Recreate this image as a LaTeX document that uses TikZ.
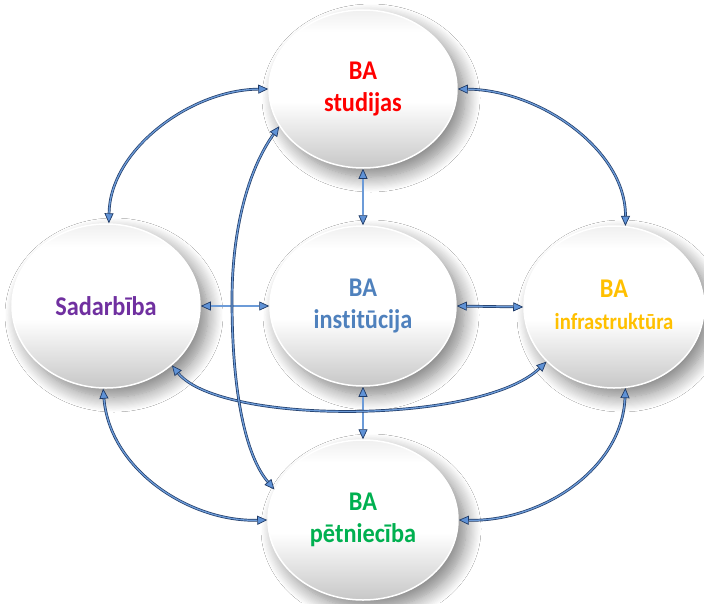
\documentclass[tikz,border=0pt]{standalone}
\usepackage{fontspec}
\setmainfont{Carlito}[Ligatures=NoCommon]
\usetikzlibrary{shapes.geometric,arrows.meta,shadows.blur}
\definecolor{cred}{HTML}{FF0000}
\definecolor{cblue}{HTML}{4F81BD}
\definecolor{cpurple}{HTML}{7030A0}
\definecolor{cgold}{HTML}{FFC000}
\definecolor{cgreen}{HTML}{00B050}
\definecolor{lnout}{HTML}{1F3A66}
\definecolor{lnin}{HTML}{6C9BD8}
\definecolor{tipfill}{HTML}{5F92D6}
\pgfdeclareverticalshading{bubshade}{100bp}{color(0bp)=(black!22); color(25bp)=(black!22); color(46bp)=(white); color(68bp)=(white); color(75bp)=(black!6); color(100bp)=(black!6)}
\tikzset{
  bubble/.style={ellipse, inner sep=0pt, draw=white, line width=1.5pt,
    shading=bubshade,
    blur shadow={shadow xshift=8pt, shadow yshift=-9pt,
      shadow opacity=50, shadow blur radius=15pt, shadow blur steps=14},
    font=\bfseries\fontsize{27}{32}\selectfont, align=center},
  conn/.style={draw=lnout, line width=0.7pt, double=lnin, double distance=1.3pt,
    {Triangle[length=10pt,width=9pt,fill=tipfill,line width=0.7pt]}-{Triangle[length=10pt,width=9pt,fill=tipfill,line width=0.7pt]}},
}
\newcommand{\sq}[1]{\scalebox{0.9}[1]{#1}}
\begin{document}
\begin{tikzpicture}[x=1pt,y=-1pt]
\useasboundingbox[fill=white] (0,0) rectangle (704,603);
\node[bubble, minimum width=188pt, minimum height=158pt, text=cred] (top) at (363,89)
  {\sq{\begin{tabular}{@{}c@{}}BA\\studijas\end{tabular}}};
\node[bubble, minimum width=188pt, minimum height=164pt, text=cpurple] (left) at (106,306)
  {\sq{Sadarbība}};
\node[bubble, minimum width=186pt, minimum height=160pt, text=cblue] (center) at (363,306)
  {\sq{\begin{tabular}{@{}c@{}}BA\\institūcija\end{tabular}}};
\node[bubble, minimum width=180pt, minimum height=162pt, text=cgold] (right) at (614,307)
  {\sq{\begin{tabular}{@{}c@{}}BA\\{\fontsize{23}{32}\selectfont infrastruktūra}\end{tabular}}};
\node[bubble, minimum width=190pt, minimum height=160pt, text=cgreen] (bottom) at (363,520)
  {\sq{\begin{tabular}{@{}c@{}}BA\\pētniecība\end{tabular}}};

% straight connectors
\draw[conn] (top.south) -- (center.north);
\draw[conn] (center.south) -- (bottom.north);
\draw[conn] (left.east) -- (center.west);
\draw[conn] (center.east) -- (right.west);

% outer arcs
\draw[conn] (left.88) .. controls (110,150) and (190,90) .. (top.west);
\draw[conn] (top.east) .. controls (540,90) and (626,150) .. (right.82);
\draw[conn] (left.268) .. controls (110,470) and (190,522) .. (bottom.west);
\draw[conn] (right.278) .. controls (622,470) and (540,522) .. (bottom.east);

% long curves
\draw[conn] (left.-42) .. controls (220,425) and (480,425) .. (right.-141);
\draw[conn] (top.204) .. controls (248,170) and (232,230) .. (232,300)
  .. controls (232,390) and (245,455) .. (bottom.161);
\end{tikzpicture}
\end{document}
